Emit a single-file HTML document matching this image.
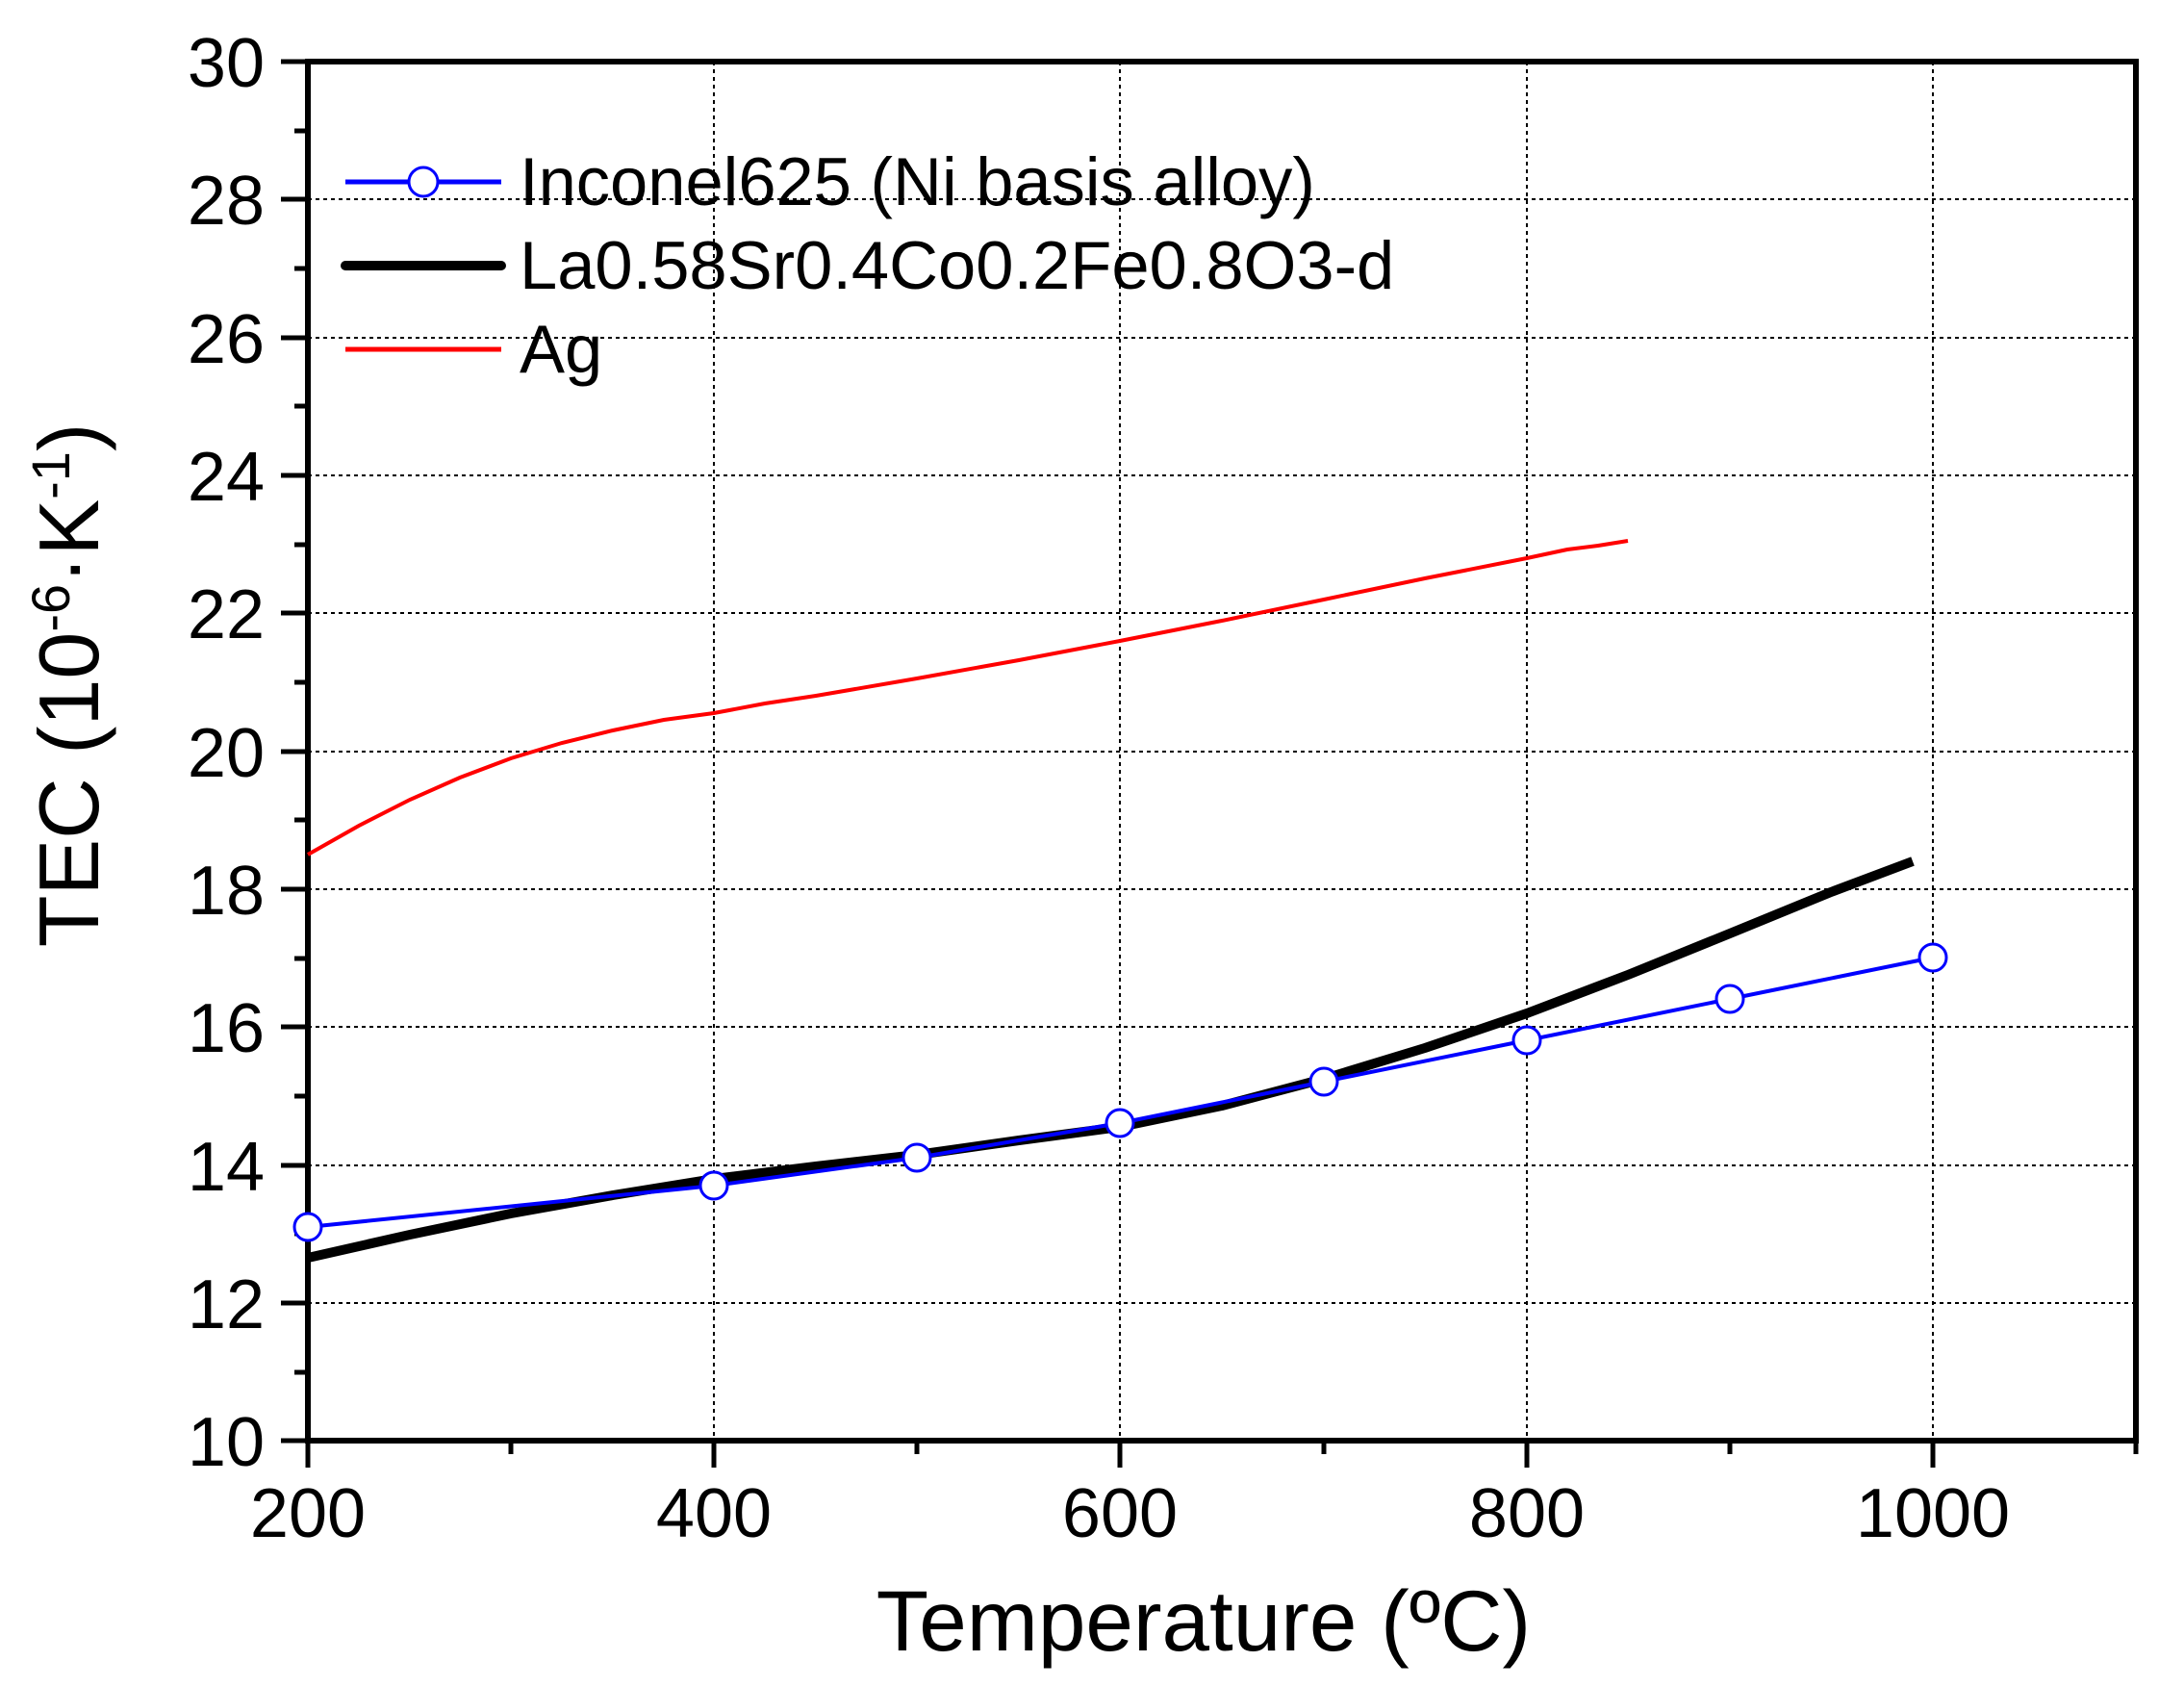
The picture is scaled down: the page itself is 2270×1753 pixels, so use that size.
<!DOCTYPE html>
<html><head><meta charset="utf-8"><style>html,body{margin:0;padding:0;background:#fff}svg{display:block}</style></head>
<body>
<svg width="2270" height="1753" viewBox="0 0 2270 1753" xmlns="http://www.w3.org/2000/svg" font-family="Liberation Sans, Arial, sans-serif">
<rect width="2270" height="1753" fill="#fff"/>
<g stroke="#000" stroke-width="2" stroke-dasharray="4,4">
<line x1="320" y1="207" x2="2220" y2="207"/><line x1="320" y1="351" x2="2220" y2="351"/>
<line x1="320" y1="494" x2="2220" y2="494"/><line x1="320" y1="637" x2="2220" y2="637"/>
<line x1="320" y1="781" x2="2220" y2="781"/><line x1="320" y1="924" x2="2220" y2="924"/>
<line x1="320" y1="1067" x2="2220" y2="1067"/><line x1="320" y1="1211" x2="2220" y2="1211"/>
<line x1="320" y1="1354" x2="2220" y2="1354"/>
<line x1="742" y1="64" x2="742" y2="1497"/><line x1="1164" y1="64" x2="1164" y2="1497"/>
<line x1="1587" y1="64" x2="1587" y2="1497"/><line x1="2009" y1="64" x2="2009" y2="1497"/>
</g>
<g stroke="#000" stroke-width="5" fill="none">
<rect x="320" y="64" width="1900" height="1433" stroke-width="6"/>
<path d="M292 64H320M292 207H320M292 351H320M292 494H320M292 637H320M292 781H320M292 924H320M292 1067H320M292 1211H320M292 1354H320M292 1497H320"/>
<path d="M306 136H320M306 279H320M306 422H320M306 566H320M306 709H320M306 852H320M306 996H320M306 1139H320M306 1282H320M306 1426H320"/>
<path d="M320 1497V1525M742 1497V1525M1164 1497V1525M1587 1497V1525M2009 1497V1525"/>
<path d="M531 1497V1511M953 1497V1511M1376 1497V1511M1798 1497V1511M2220 1497V1511"/>
</g>
<g font-size="72" text-anchor="end">
<text x="275" y="90">30</text><text x="275" y="233">28</text><text x="275" y="377">26</text>
<text x="275" y="520">24</text><text x="275" y="663">22</text><text x="275" y="807">20</text>
<text x="275" y="950">18</text><text x="275" y="1093">16</text><text x="275" y="1237">14</text>
<text x="275" y="1380">12</text><text x="275" y="1523">10</text>
</g>
<g font-size="72" text-anchor="middle">
<text x="320" y="1597">200</text><text x="742" y="1597">400</text><text x="1164" y="1597">600</text>
<text x="1587" y="1597">800</text><text x="2009" y="1597">1000</text>
</g>
<text x="1251" y="1715" font-size="89" text-anchor="middle">Temperature (ºC)</text>
<text transform="translate(102,712) rotate(-90)" font-size="88" text-anchor="middle">TEC (10<tspan font-size="56" dy="-30">-6</tspan><tspan dy="30">·K</tspan><tspan font-size="56" dy="-30">-1</tspan><tspan dy="30">)</tspan></text>
<polyline fill="none" stroke="#f00" stroke-width="4" points="320,888 373,858 426,831 478,808 531,788 584,772 637,759 690,748 742,741 795,731 848,723 953,705 1059,686 1164,666 1270,645 1376,623 1481,601 1587,580 1629,571 1661,567 1692,562"/>
<polyline fill="none" stroke="#000" stroke-width="10" stroke-linejoin="round" points="320,1307 426,1283 531,1261 637,1242 742,1225 848,1212 953,1200 1059,1185 1164,1171 1270,1149 1376,1121 1481,1089 1587,1053 1692,1013 1798,970 1903,927 1988,895"/>
<polyline fill="none" stroke="#00f" stroke-width="4" points="320,1275 742,1232 953,1203 1164,1167 1376,1124 1587,1081 1798,1038 2009,995"/>
<g fill="#fff" stroke="#00f" stroke-width="3">
<circle cx="320" cy="1275" r="14"/><circle cx="742" cy="1232" r="14"/><circle cx="953" cy="1203" r="14"/>
<circle cx="1164" cy="1167" r="14"/><circle cx="1376" cy="1124" r="14"/><circle cx="1587" cy="1081" r="14"/>
<circle cx="1798" cy="1038" r="14"/><circle cx="2009" cy="995" r="14"/>
</g>
<line x1="359" y1="189" x2="521" y2="189" stroke="#00f" stroke-width="5"/>
<circle cx="440" cy="189" r="15" fill="#fff" stroke="#00f" stroke-width="3"/>
<line x1="359" y1="276" x2="521" y2="276" stroke="#000" stroke-width="10" stroke-linecap="round"/>
<line x1="359" y1="363" x2="521" y2="363" stroke="#f00" stroke-width="5"/>
<g font-size="70.5">
<text x="540" y="213">Inconel625 (Ni basis alloy)</text>
<text x="540" y="300">La0.58Sr0.4Co0.2Fe0.8O3-d</text>
<text x="540" y="387">Ag</text>
</g>
</svg>
</body></html>
